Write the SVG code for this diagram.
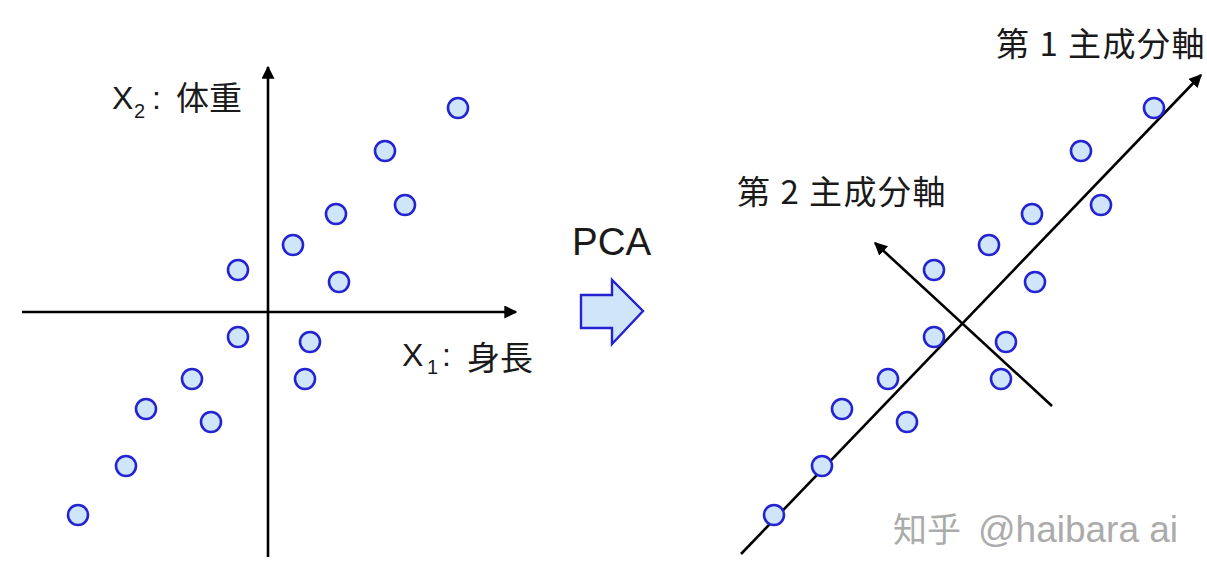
<svg xmlns="http://www.w3.org/2000/svg" width="1207" height="577" viewBox="0 0 1207 577">
<defs>
<style>
.pt{fill:#cfe6fa;stroke:#2323d2;stroke-width:2.6}
.ax{stroke:#000;stroke-width:2.6;fill:none}
.lat{font-family:"Liberation Sans",Arial,sans-serif;fill:#1a1a1a}
.cjk{font-family:"Noto Sans CJK JP","Noto Sans",sans-serif;font-size:33px;fill:#1a1a1a}
.wm{fill:#ababab}
</style>
<marker id="ah" viewBox="0 0 10 10" refX="9" refY="5" markerWidth="5" markerHeight="5" markerUnits="strokeWidth" orient="auto">
<path d="M0,0 L10,5 L0,10 Z" fill="#000"/>
</marker>
<g id="pts">
<circle class="pt" cx="458" cy="108" r="10"/>
<circle class="pt" cx="385" cy="151" r="10"/>
<circle class="pt" cx="405" cy="205" r="10"/>
<circle class="pt" cx="336" cy="214" r="10"/>
<circle class="pt" cx="293" cy="245" r="10"/>
<circle class="pt" cx="238" cy="270" r="10"/>
<circle class="pt" cx="339" cy="282" r="10"/>
<circle class="pt" cx="238" cy="337" r="10"/>
<circle class="pt" cx="310" cy="342" r="10"/>
<circle class="pt" cx="192" cy="379" r="10"/>
<circle class="pt" cx="305" cy="379" r="10"/>
<circle class="pt" cx="146" cy="409" r="10"/>
<circle class="pt" cx="211" cy="422" r="10"/>
<circle class="pt" cx="126" cy="466" r="10"/>
<circle class="pt" cx="78" cy="515" r="10"/>
</g>
</defs>
<rect width="1207" height="577" fill="#fff"/>
<g id="connectors">
<line class="ax" x1="22" y1="312" x2="516" y2="312" marker-end="url(#ah)"/>
<line class="ax" x1="268" y1="557" x2="268" y2="67" marker-end="url(#ah)"/>
<line class="ax" x1="741" y1="554" x2="1201" y2="75" marker-end="url(#ah)"/>
<line class="ax" x1="1052" y1="406" x2="875" y2="243" marker-end="url(#ah)"/>
</g>
<g id="left-points"><use href="#pts"/></g>
<g id="right-points"><use href="#pts" transform="translate(696,0)"/></g>
<g id="pca-arrow">
<path d="M581,295 L612,295 L612,280 L643,311 L612,344 L612,328 L581,328 Z" fill="#cfe6fa" stroke="#2323d2" stroke-width="2.4"/>
</g>
<g id="label-x2">
<text class="lat" x="112" y="109" font-size="32">X</text>
<text class="lat" x="134" y="118" font-size="20">2</text>
<text class="lat" x="152" y="109" font-size="32">:</text>
<text class="cjk" x="176" y="110" style="font-size:33px">体重</text>
</g>
<g id="label-x1">
<text class="lat" x="402" y="366" font-size="32">X</text>
<text class="lat" x="427" y="374" font-size="20">1</text>
<text class="lat" x="442" y="366" font-size="32">:</text>
<text class="cjk" x="467" y="370" style="font-size:33px">身長</text>
</g>
<g id="label-pca">
<text class="lat" x="572" y="255" font-size="38.5">PCA</text>
</g>
<g id="label-pc1">
<text class="cjk" x="996" y="56" letter-spacing="1.5">第 1 主成分軸</text>
</g>
<g id="label-pc2">
<text class="cjk" x="737" y="204" letter-spacing="1.5">第 2 主成分軸</text>
</g>
<g id="watermark">
<text class="wm" x="893" y="542"><tspan style="font-family:'Noto Sans CJK SC',sans-serif;font-size:34px">知乎</tspan><tspan style="font-family:'Liberation Sans',sans-serif;font-size:37px" x="978">@haibara ai</tspan></text>
</g>
</svg>
